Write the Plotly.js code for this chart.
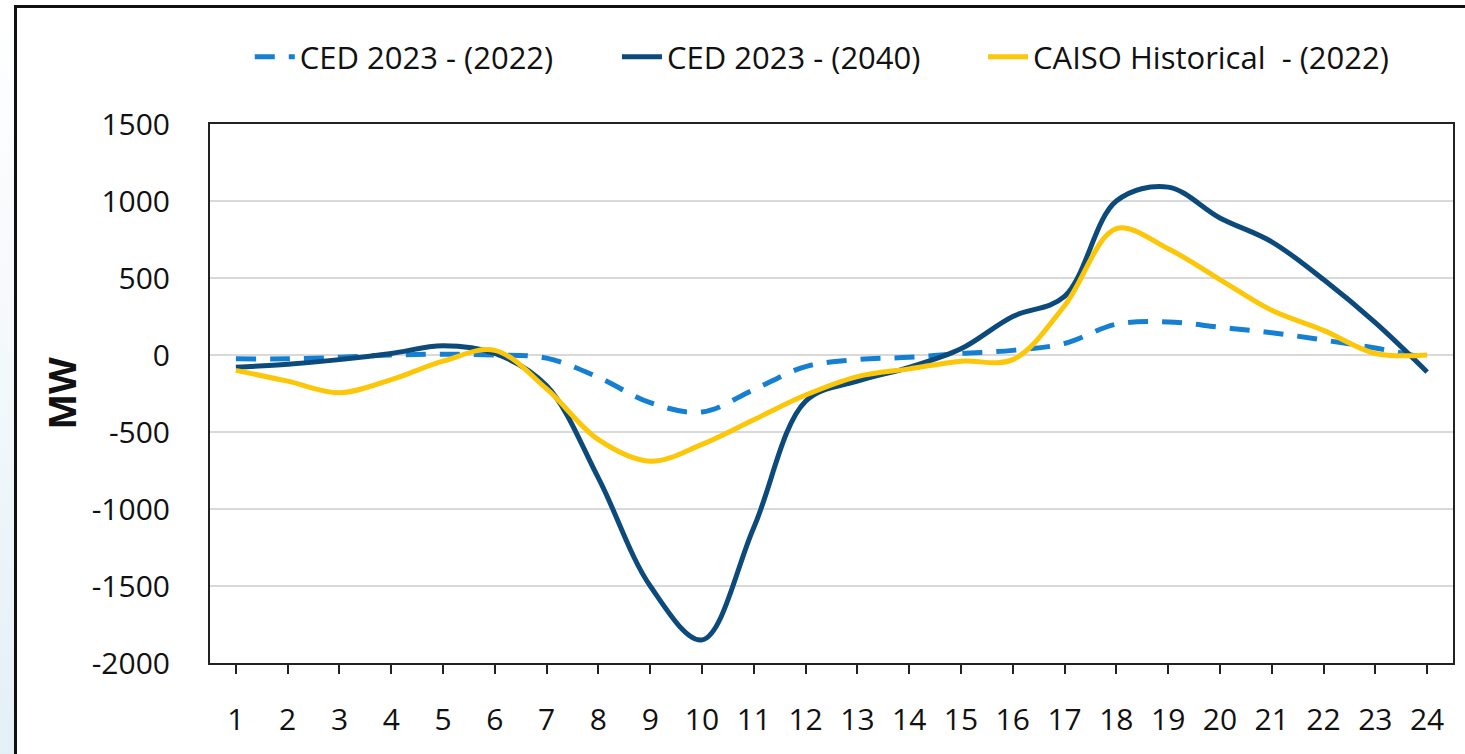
<!DOCTYPE html>
<html>
<head>
<meta charset="utf-8">
<script src="https://cdn.plot.ly/plotly-3.0.1.min.js"></script>
<style>
  html, body { margin: 0; padding: 0; width: 1465px; height: 754px; overflow: hidden; }
  body { background: linear-gradient(to bottom, #ffffff 0%, #f3f8fb 50%, #e4eff6 100%); position: relative; }
  #frame { position: absolute; left: 14px; top: 5px; width: 1460px; height: 760px;
           border-left: 3px solid #111; border-top: 3px solid #111; background: #fff; }
  #chart { width: 1451px; height: 746px; }
</style>
</head>
<body>
<div id="frame"><div id="chart"></div></div>
<script>
const hours = [1,2,3,4,5,6,7,8,9,10,11,12,13,14,15,16,17,18,19,20,21,22,23,24];
const hourLabels = hours.map(String);

const ced2022 = [-25,-25,-15,0,5,0,-20,-145,-310,-370,-225,-75,-30,-15,10,30,75,200,215,180,145,97,45,-20];
const ced2040 = [-80,-60,-30,10,60,10,-200,-800,-1500,-1850,-1120,-300,-170,-80,40,250,380,1000,1090,890,735,490,210,-110];
const caiso2022 = [-100,-170,-245,-160,-40,30,-220,-550,-690,-580,-420,-260,-140,-90,-40,-30,320,820,690,490,290,160,10,0];

const seriesNames = ['CED 2023 - (2022)', 'CED 2023 - (2040)', 'CAISO Historical  - (2022)'];
const yTicks = [1500,1000,500,0,-500,-1000,-1500,-2000];

const traces = [
  { x: hours, y: ced2022, name: seriesNames[0], type: 'scatter', mode: 'lines', legend: 'legend',
    line: { color: '#1580d2', width: 5, dash: '20px,14px', shape: 'spline', smoothing: 1 } },
  { x: hours, y: ced2040, name: seriesNames[1], type: 'scatter', mode: 'lines', legend: 'legend2',
    line: { color: '#0c4a7c', width: 5, shape: 'spline', smoothing: 1 } },
  { x: hours, y: caiso2022, name: seriesNames[2], type: 'scatter', mode: 'lines', legend: 'legend3',
    line: { color: '#fcc708', width: 5, shape: 'spline', smoothing: 1 } }
];

function legendAt(x) {
  return { orientation: 'h', x: x, xanchor: 'left', y: 1.124, yanchor: 'middle',
           font: { size: 31, color: '#111' }, itemwidth: 40, bgcolor: 'rgba(0,0,0,0)' };
}

const layout = {
  width: 1451, height: 746,
  margin: { l: 193, r: 15, t: 116, b: 91 },
  paper_bgcolor: '#ffffff', plot_bgcolor: '#ffffff',
  font: { family: 'Open Sans, sans-serif', color: '#111' },
  showlegend: true,
  legend: legendAt(0.032),
  legend2: legendAt(0.3274),
  legend3: legendAt(0.6219),
  xaxis: {
    range: [0.5, 24.5], tickvals: hours, ticktext: hourLabels,
    showgrid: false, zeroline: false,
    showline: true, linecolor: '#222', linewidth: 2, mirror: true,
    ticks: 'outside', ticklen: 9, tickwidth: 2, tickcolor: '#222',
    ticklabelstandoff: 20,
    tickfont: { size: 30, color: '#111' }
  },
  yaxis: {
    range: [-2000, 1500], tickvals: yTicks, ticktext: yTicks.map(String),
    showgrid: true, gridcolor: '#d9d9d9', gridwidth: 2, zeroline: false,
    showline: true, linecolor: '#222', linewidth: 2, mirror: true,
    ticks: '', ticklabelstandoff: 32,
    tickfont: { size: 30, color: '#111' },
    title: { text: '<b>MW</b>', font: { size: 38, color: '#111' }, standoff: 3 }
  }
};

Plotly.newPlot('chart', traces, layout, { displayModeBar: false, staticPlot: true });
</script>
</body>
</html>
